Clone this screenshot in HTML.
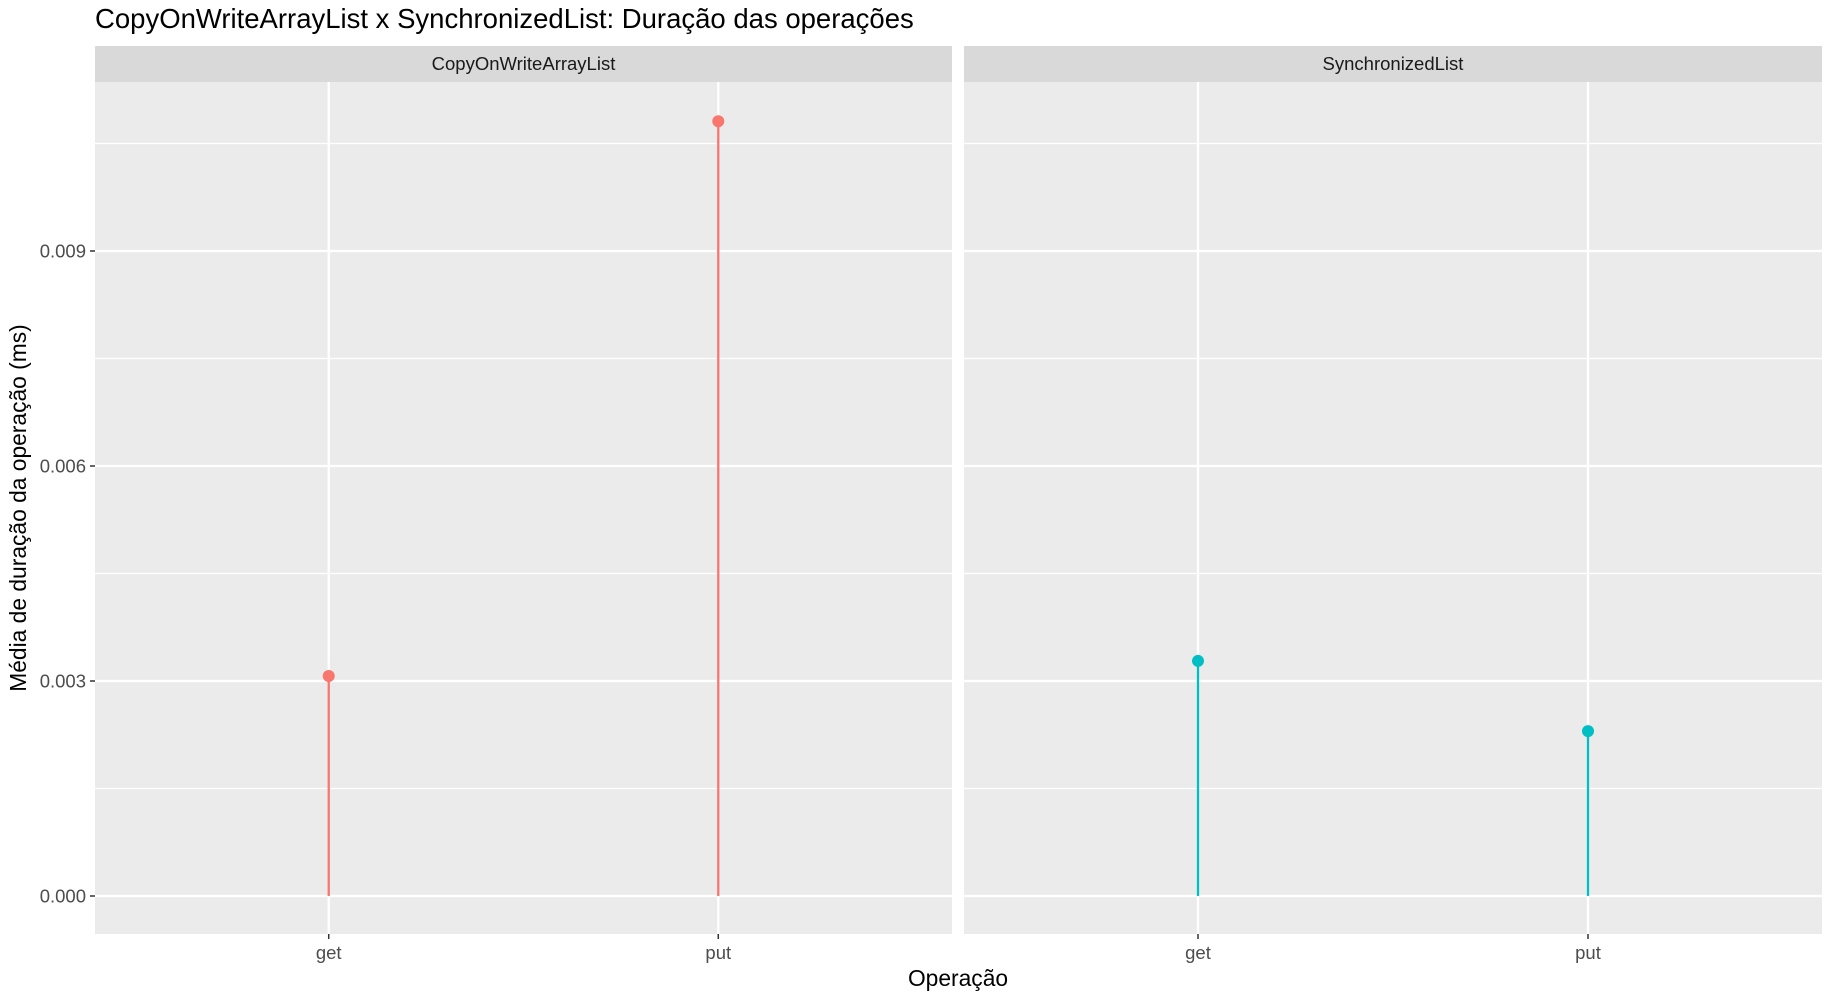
<!DOCTYPE html>
<html><head><meta charset="utf-8"><style>html,body{margin:0;padding:0;background:#fff}</style></head>
<body>
<svg id="chart" width="1837" height="1003" xmlns="http://www.w3.org/2000/svg" font-family="Liberation Sans, sans-serif">
<rect width="1837" height="1003" fill="#fff"/>
<text x="95" y="28" font-size="27.5" fill="#000">CopyOnWriteArrayList x SynchronizedList: Duração das operações</text>
<g id="panels"></g>
<text x="958" y="986" font-size="22.8" text-anchor="middle" fill="#000">Operação</text>
<text transform="translate(26,508) rotate(-90)" font-size="22.8" text-anchor="middle" fill="#000">Média de duração da operação (ms)</text>
</svg>
<script>
const facets = ["CopyOnWriteArrayList", "SynchronizedList"];
const categories = ["get", "put"];
const cowValues = [0.00307, 0.01081];
const syncValues = [0.00328, 0.00230];
const yTicks = [0, 0.003, 0.006, 0.009];
const yTickLabels = ["0.000", "0.003", "0.006", "0.009"];
const colors = ["#F8766D", "#00BFC4"];
const seriesValues = [cowValues, syncValues];

const NS = "http://www.w3.org/2000/svg";
const panelsG = document.getElementById("panels");
const panelX = [[95, 952], [964, 1822]];
const plotTop = 82, plotBottom = 934;
function y(v){ return 896 - v / 0.003 * 215; }
function xc(i,p){ const [a,b]=panelX[p]; const w=b-a; const step=w/(categories.length-1+1.2); return a+step*0.6+step*i; }
function mk(tag, attrs, parent){ const e=document.createElementNS(NS,tag); for(const k in attrs) e.setAttribute(k,attrs[k]); (parent||panelsG).appendChild(e); return e; }

facets.forEach((f,p)=>{
  const [a,b]=panelX[p];
  const g=mk("g",{});
  
  
  const strip=mk("rect",{x:a,y:46,width:b-a,height:36,fill:"#d9d9d9"},g);
  
  
  const st=mk("text",{x:(a+b)/2,y:70,"font-size":"18.5","text-anchor":"middle",fill:"#1a1a1a"},g);
  st.textContent=f;
  
  
  const bg=mk("rect",{x:a,y:plotTop,width:b-a,height:plotBottom-plotTop,fill:"#ebebeb"},g);
  
  
  for(let k=0;k<yTicks.length;k++){
    const mv=yTicks[k]+0.0015;
    const ln=mk("line",{x1:a,x2:b,y1:y(mv),y2:y(mv),stroke:"#fff","stroke-width":"1.2"},g);
    
    
  }
  yTicks.forEach((t,k)=>{
    const ln=mk("line",{x1:a,x2:b,y1:y(t),y2:y(t),stroke:"#fff","stroke-width":"2.3"},g);
    
    
  });
  categories.forEach((c,i)=>{
    const cx=xc(i,p);
    const ln=mk("line",{x1:cx,x2:cx,y1:plotTop,y2:plotBottom,stroke:"#fff","stroke-width":"2.3"},g);
    
    
    const tk=mk("line",{x1:cx,x2:cx,y1:plotBottom,y2:plotBottom+5,stroke:"#333","stroke-width":"1.5"},g);
    
    
    const tl=mk("text",{x:cx,y:959,"font-size":"18.5","text-anchor":"middle",fill:"#4d4d4d"},g);
    tl.textContent=c;
    
    
    const v=seriesValues[p][i];
    const stem=mk("line",{x1:cx,x2:cx,y1:y(0),y2:y(v),stroke:colors[p],"stroke-width":"2.3"},g);
    
    
    const pt=mk("circle",{cx:cx,cy:y(v),r:"6",fill:colors[p]},g);
    
    
  });
});
yTicks.forEach((t,k)=>{
  const tk=mk("line",{x1:90,x2:95,y1:y(t),y2:y(t),stroke:"#333","stroke-width":"1.5"});
  
  
  const tl=mk("text",{x:86,y:y(t)+6.5,"font-size":"18.5","text-anchor":"end",fill:"#4d4d4d"});
  tl.textContent=yTickLabels[k];
  
  
});
</script>
</body></html>
